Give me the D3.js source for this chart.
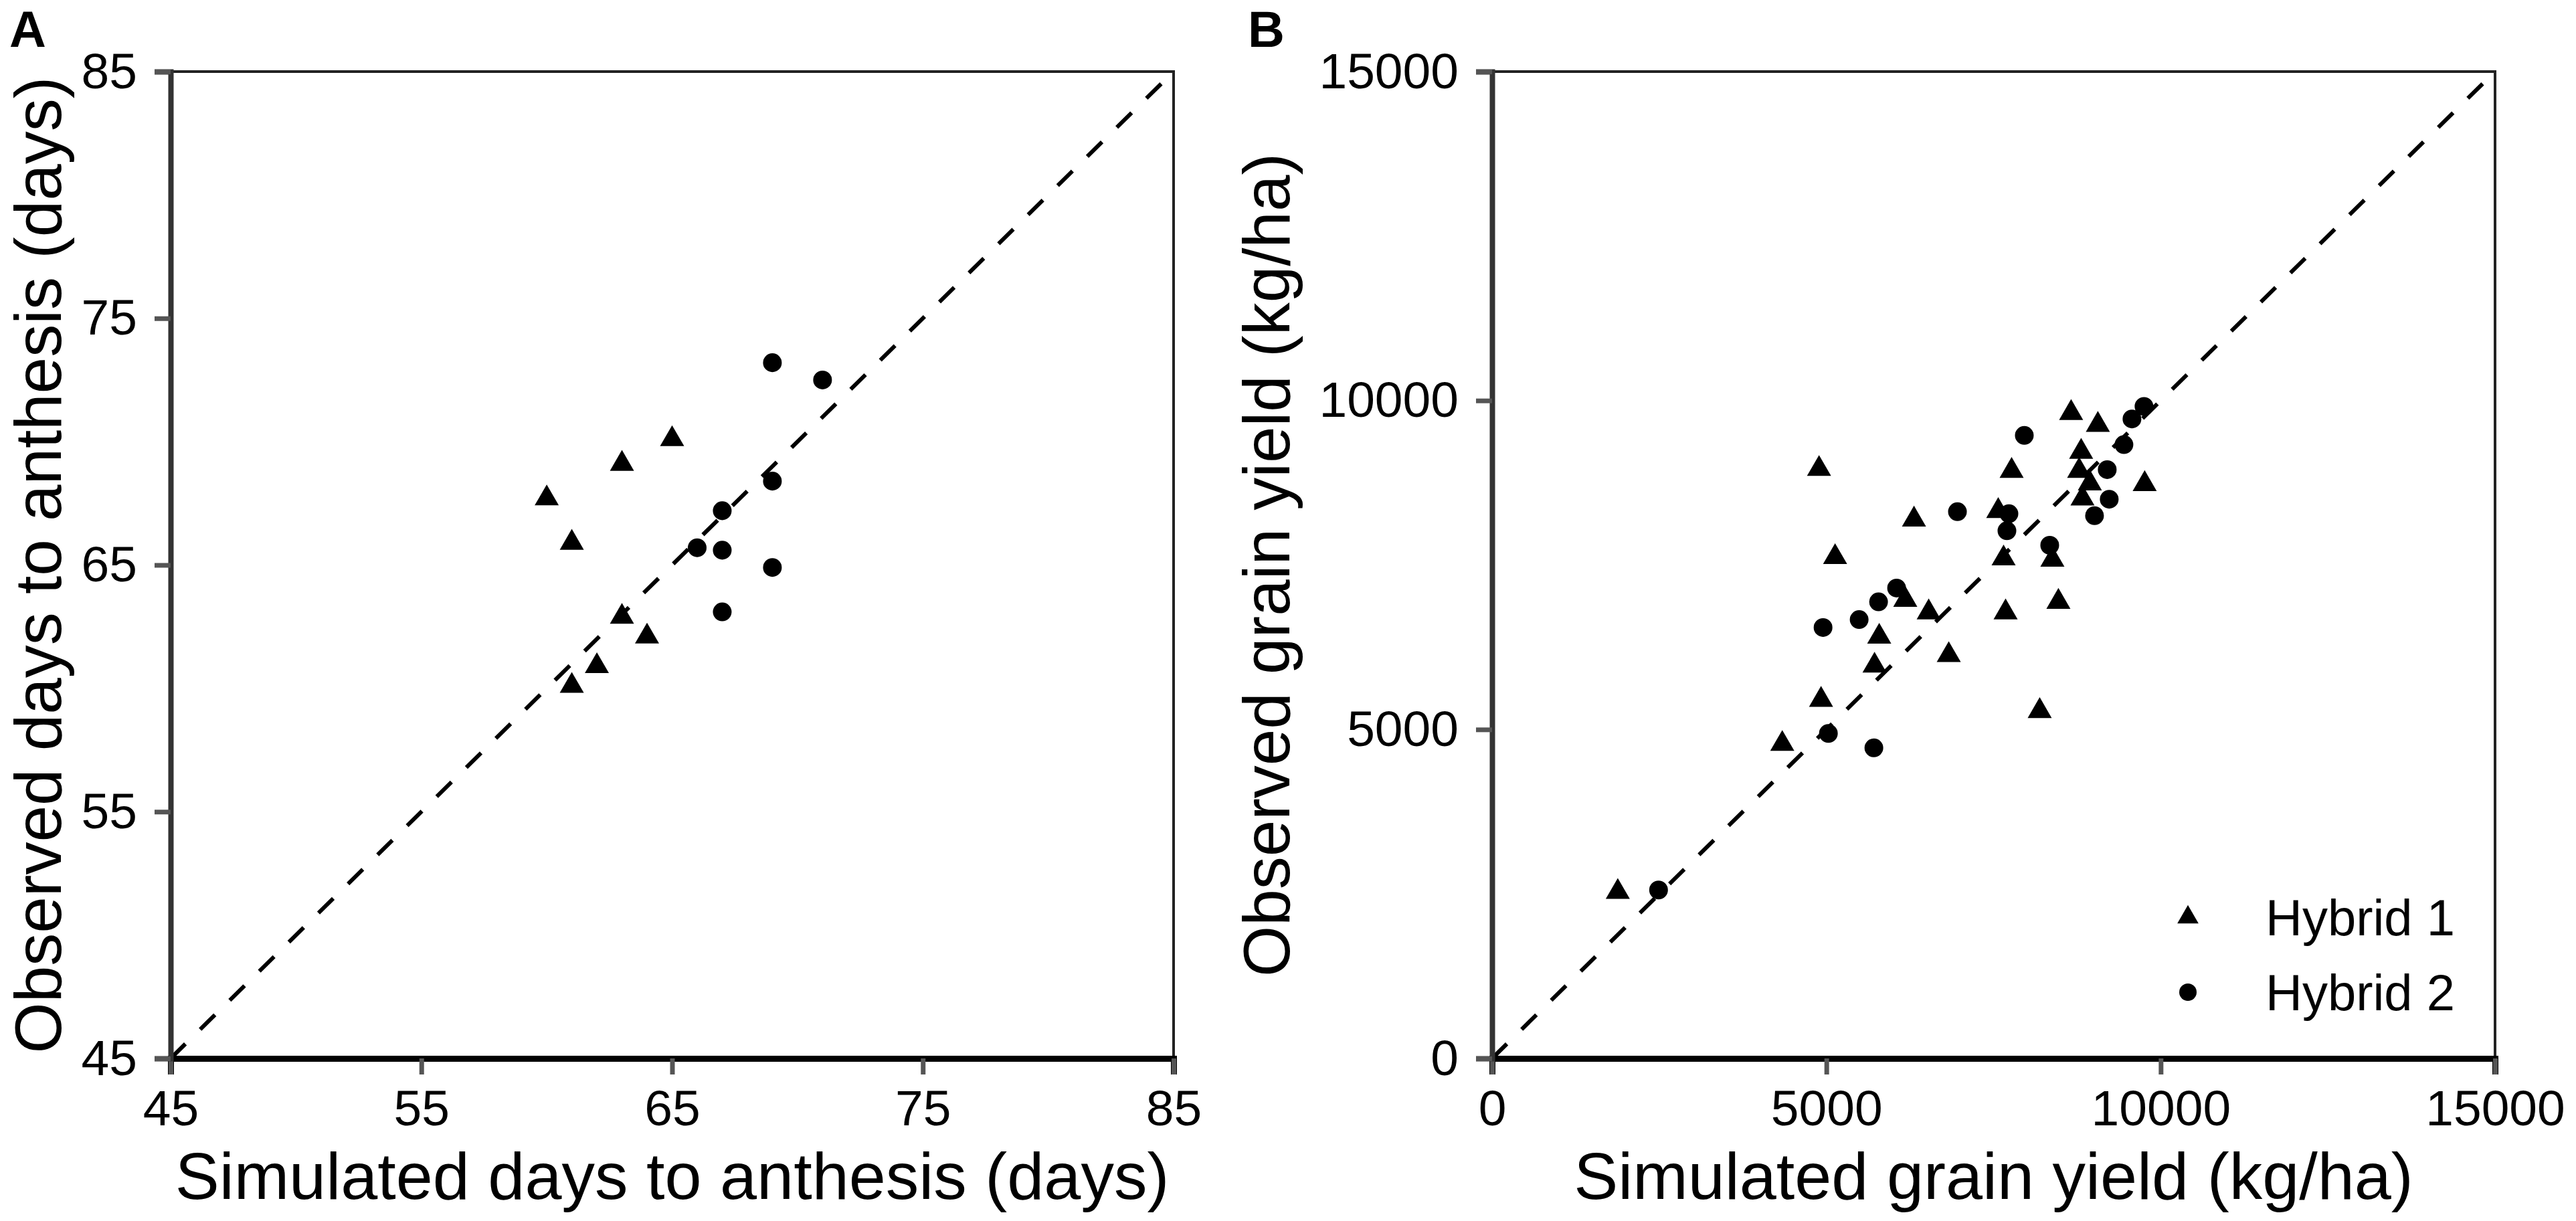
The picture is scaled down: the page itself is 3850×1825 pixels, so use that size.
<!DOCTYPE html>
<html>
<head>
<meta charset="utf-8">
<script src="https://cdnjs.cloudflare.com/ajax/libs/d3/7.8.5/d3.min.js"></script>
<style>
  body { margin: 0; background: #fff; }
  text { font-family: "Liberation Sans", Arial, sans-serif; }
</style>
</head>
<body>
<div id="chart"></div>
<script>
// ---- data ----
// panel A : days to anthesis, [simulated, observed]
var anthesisHybrid1 = [[65,70.1],[63,69.1],[60,67.7],[61,65.9],[63,62.9],[64,62.1],[62,60.9],[61,60.1]];
var anthesisHybrid2 = [[69,73.2],[71,72.5],[69,68.4],[67,67.2],[66,65.7],[67,65.6],[69,64.9],[67,63.1]];
var anthesisTicks = [45,55,65,75,85];

// panel B : grain yield kg/ha, [simulated, observed]
var yieldHybrid1 = [[8660,9810],[9060,9630],[8810,9220],[8780,8930],[8940,8740],[8830,8510],[7770,8930],
  [9760,8730],[4890,8960],[6310,8190],[7570,8320],[5130,7620],[7650,7600],[8380,7580],[6180,6970],
  [6530,6780],[7680,6780],[8470,6940],[5790,6410],[6830,6130],[5720,5970],[4920,5450],[4340,4780],
  [1880,2530],[8190,5280]];
var yieldHybrid2 = [[9750,9910],[9570,9720],[9450,9330],[7960,9470],[9200,8950],[9230,8500],[9010,8250],
  [6960,8310],[7730,8280],[7700,8020],[8340,7800],[6050,7150],[5780,6940],[5490,6670],[4950,6550],
  [5030,4940],[5710,4720],[2490,2560]];
var yieldTicks = [0,5000,10000,15000];

var seriesNames = ["Hybrid 1","Hybrid 2"];

var W = 3850, H = 1825;
var svg = d3.select("#chart").append("svg")
    .attr("width", W)
    .attr("height", H);
svg.append("rect").attr("width", W).attr("height", H).attr("fill", "#fff");

var plotTop = 107, plotBottom = 1582, plotW = 1499;

function drawPanel(opt) {
  var x = d3.scaleLinear().domain(opt.domain).range([opt.left, opt.left + plotW]);
  var y = d3.scaleLinear().domain(opt.domain).range([plotBottom, plotTop]);

  var g = svg.append("g");

  // frame
  g.append("rect")
      .attr("x", opt.left).attr("y", plotTop)
      .attr("width", plotW).attr("height", plotBottom - plotTop)
      .attr("fill", "none").attr("stroke", "#222").attr("stroke-width", 4);

  // 1:1 line
  g.append("line")
      .attr("x1", x(opt.domain[0])).attr("y1", y(opt.domain[0]))
      .attr("x2", x(opt.domain[1])).attr("y2", y(opt.domain[1]))
      .attr("stroke", "#000").attr("stroke-width", 6)
      .attr("stroke-dasharray", "31,31");

  var xAxis = d3.axisBottom(x).tickValues(opt.ticks).tickSize(24).tickPadding(20).tickFormat(d3.format("d"));
  var yAxis = d3.axisLeft(y).tickValues(opt.ticks).tickSize(24).tickPadding(26).tickFormat(d3.format("d"));

  var gx = g.append("g")
      .attr("transform", "translate(0," + plotBottom + ")")
      .call(xAxis);
  var gy = g.append("g")
      .attr("transform", "translate(" + opt.left + ",0)")
      .call(yAxis);

  gx.select(".domain").attr("stroke", "#000").attr("stroke-width", 9);
  gy.select(".domain").attr("stroke", "#333").attr("stroke-width", 8);
  [gx, gy].forEach(function(a) {
    a.selectAll(".tick line").attr("stroke", "#555").attr("stroke-width", 7);
    a.selectAll(".tick text")
        .attr("fill", "#000")
        .style("font-size", "75px");
  });
  gx.selectAll(".tick text").attr("dy", "0.75em");

  // points
  var tri = d3.symbol().type(d3.symbolTriangle).size(561);
  var circ = d3.symbol().type(d3.symbolCircle).size(616);

  g.selectAll(".h2")
      .data(opt.h2)
      .enter().append("path")
      .attr("class", "h2")
      .attr("d", circ)
      .attr("transform", function(d) { return "translate(" + x(d[0]) + "," + y(d[1]) + ")"; })
      .attr("fill", "#000");

  g.selectAll(".h1")
      .data(opt.h1)
      .enter().append("path")
      .attr("class", "h1")
      .attr("d", tri)
      .attr("transform", function(d) { return "translate(" + x(d[0]) + "," + y(d[1]) + ")"; })
      .attr("fill", "#000");

  // titles
  g.append("text")
      .attr("x", opt.left + plotW / 2)
      .attr("y", 1792)
      .attr("text-anchor", "middle")
      .style("font-size", "99px")
      .text(opt.xTitle);

  g.append("text")
      .attr("transform", "translate(" + opt.yTitleX + "," + ((plotTop + plotBottom) / 2) + ") rotate(-90)")
      .attr("text-anchor", "middle")
      .style("font-size", "98px")
      .text(opt.yTitle);

  g.append("text")
      .attr("x", opt.tagX)
      .attr("y", 70)
      .style("font-size", "76px")
      .style("font-weight", "bold")
      .text(opt.tag);

  return {x: x, y: y, g: g};
}

drawPanel({
  left: 255, domain: [45, 85], ticks: anthesisTicks,
  h1: anthesisHybrid1, h2: anthesisHybrid2,
  xTitle: "Simulated days to anthesis (days)",
  yTitle: "Observed days to anthesis (days)",
  yTitleX: 91, tag: "A", tagX: 14
});

var pb = drawPanel({
  left: 2230, domain: [0, 15000], ticks: yieldTicks,
  h1: yieldHybrid1, h2: yieldHybrid2,
  xTitle: "Simulated grain yield (kg/ha)",
  yTitle: "Observed grain yield (kg/ha)",
  yTitleX: 1927, tag: "B", tagX: 1865
});

// legend
var legend = pb.g.selectAll(".legend")
    .data(seriesNames)
    .enter().append("g")
    .attr("class", "legend")
    .attr("transform", function(d, i) { return "translate(3270," + (1371 + i * 112) + ")"; });

legend.append("path")
    .attr("d", function(d, i) {
      return i == 0 ? d3.symbol().type(d3.symbolTriangle).size(435)() : d3.symbol().type(d3.symbolCircle).size(531)();
    })
    .attr("fill", "#000");

legend.append("text")
    .attr("x", 116)
    .attr("dy", "0.36em")
    .style("font-size", "76px")
    .text(function(d) { return d; });
</script>
</body>
</html>
